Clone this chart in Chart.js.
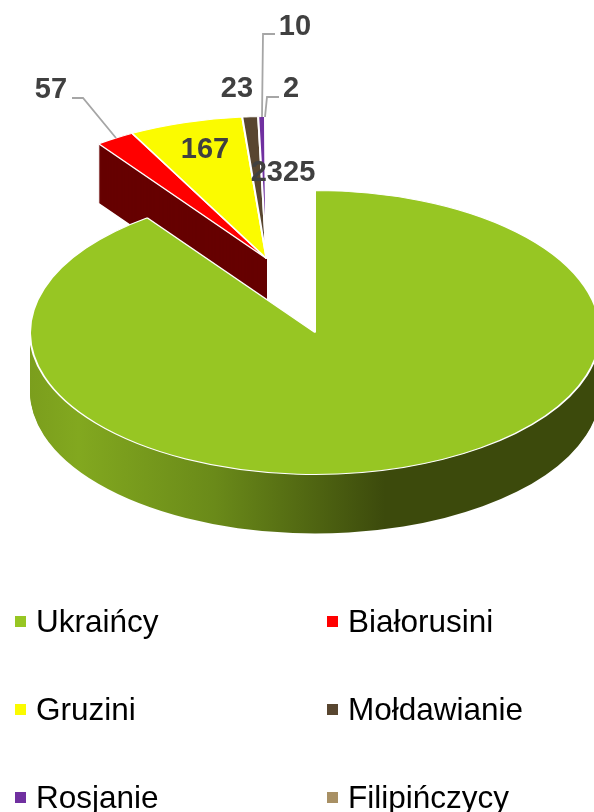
<!DOCTYPE html>
<html>
<head>
<meta charset="utf-8">
<style>
html, body { margin: 0; padding: 0; background: #fff; overflow: hidden; }
canvas { display: block; }
</style>
<script src="https://cdn.jsdelivr.net/npm/chart.js@4/dist/chart.umd.min.js"></script>
</head>
<body>
<canvas id="pieChart" width="594" height="812"></canvas>
<script>
// dane z wykresu
const categories = ['Ukraińcy', 'Białorusini', 'Gruzini', 'Mołdawianie', 'Rosjanie', 'Filipińczycy'];
const values = [2325, 57, 167, 23, 10, 2];
const sliceColors = ['#97c623', '#ff0000', '#fbfb00', '#584630', '#7030a0', '#a89064'];
const smallSideColor = '#660000'; // widoczny jest tylko bok czerwonego wycinka

// polozenie wykresu 3D na stronie
const centerX = 315, centerY = 332.5, flatten = 0.498, depth = 59;
const shiftX = -48.5, shiftY = -74; // wysuniete male wycinki

function placeArc(ctx, arc, dx, dy) {
    ctx.translate(centerX + dx, centerY + dy);
    ctx.scale(1, flatten);
    ctx.translate(-arc.x, -arc.y);
}

function drawFlat(ctx, arc, dx, dy, fill, line, width) {
    const saved = arc.options;
    arc.options = Object.assign({}, saved, { backgroundColor: fill, borderColor: line, borderWidth: width });
    ctx.save();
    placeArc(ctx, arc, dx, dy);
    arc.draw(ctx);
    ctx.restore();
    arc.options = saved;
}

const pie3d = {
    id: 'pie3d',
    beforeDatasetsDraw(chart) {
        const ctx = chart.ctx;
        const arcs = chart.getDatasetMeta(0).data;

        // boki malych wycinkow
        for (let i = arcs.length - 1; i >= 1; i--) {
            for (let d = depth; d >= 1; d--) {
                drawFlat(ctx, arcs[i], shiftX, shiftY + d, smallSideColor, smallSideColor, 0);
            }
        }
        for (let i = 1; i < arcs.length; i++) {
            drawFlat(ctx, arcs[i], shiftX, shiftY, sliceColors[i], '#ffffff', 2);
        }

        // bok duzego wycinka z gradientem, liczony we wspolrzednych luku
        const off = centerX - arcs[0].x;
        const grad = ctx.createLinearGradient(30 - off, 0, 400 - off, 0);
        grad.addColorStop(0, '#7b9e1d');
        grad.addColorStop(0.13, '#82a81f');
        grad.addColorStop(0.5, '#6a8a19');
        grad.addColorStop(0.96, '#3c4a0c');
        grad.addColorStop(1, '#3c4a0c');
        for (let d = depth; d >= 1; d--) {
            drawFlat(ctx, arcs[0], 0, d, grad, grad, 0);
        }
        drawFlat(ctx, arcs[0], 0, 0, sliceColors[0], '#ffffff', 2);
        return false;
    },
    afterDraw(chart) {
        const ctx = chart.ctx;
        ctx.save();

        // linie odniesienia
        const leaders = [
            [[72, 98], [83, 98], [116, 138]],
            [[275, 34], [263, 34], [262, 117]],
            [[279, 97], [267, 97], [265, 117]]
        ];
        ctx.strokeStyle = '#a6a6a6';
        ctx.lineWidth = 1.8;
        leaders.forEach(function(pts) {
            ctx.beginPath();
            pts.forEach(function(p, n) {
                if (n == 0) ctx.moveTo(p[0], p[1]);
                else ctx.lineTo(p[0], p[1]);
            });
            ctx.stroke();
        });

        // etykiety wartosci
        const labelPos = [[283, 173], [51, 90], [205, 150], [237, 89], [295, 27], [291, 89]];
        ctx.font = 'bold 29px "Liberation Sans", Arial, sans-serif';
        ctx.fillStyle = '#404040';
        ctx.textAlign = 'center';
        ctx.textBaseline = 'middle';
        values.forEach(function(v, i) {
            ctx.fillText(String(v), labelPos[i][0], labelPos[i][1]);
        });

        // legenda
        ctx.font = '31.5px "Liberation Sans", Arial, sans-serif';
        ctx.textAlign = 'left';
        categories.forEach(function(name, i) {
            const col = i % 2, row = Math.floor(i / 2);
            const x = col == 0 ? 15 : 327;
            const y = 621 + row * 88;
            ctx.fillStyle = sliceColors[i];
            ctx.fillRect(x, y - 5, 11, 11);
            ctx.fillStyle = '#000000';
            ctx.fillText(name, x + 21, y + 2);
        });
        ctx.restore();
    }
};

new Chart(document.getElementById('pieChart'), {
    type: 'pie',
    data: {
        labels: categories,
        datasets: [{
            data: values,
            backgroundColor: sliceColors,
            borderColor: '#ffffff',
            borderWidth: 2
        }]
    },
    options: {
        responsive: false,
        animation: false,
        radius: 285,
        layout: { padding: { bottom: 218 } },
        plugins: {
            legend: { display: false },
            tooltip: { enabled: false }
        }
    },
    plugins: [pie3d]
});
</script>
</body>
</html>
